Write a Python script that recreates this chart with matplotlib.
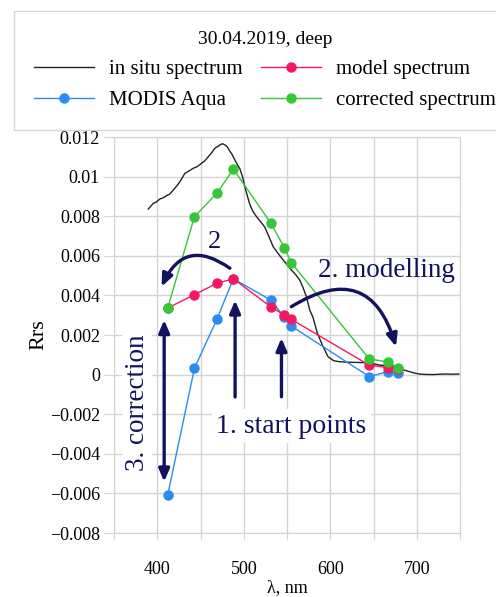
import numpy as np
import matplotlib.pyplot as plt
from matplotlib.ticker import FuncFormatter

# Rrs spectra, 30.04.2019 (deep station)
bands = [412, 443, 469, 488, 531, 547, 555, 645, 667, 678]
modis = [-0.0061, 0.00032, 0.0028, 0.00484, 0.00377, 0.0029, 0.00245, -0.0001, 0.00015, 0.0001]
model = [0.00336, 0.00404, 0.00461, 0.00484, 0.00343, 0.0030, 0.00279, 0.00048, 0.00035, 0.00028]
corrected = [0.00335, 0.00798, 0.00916, 0.01038, 0.00767, 0.00641, 0.00565, 0.00079, 0.00064, 0.00035]

insitu_wl = [389.6, 395.4, 399.0, 403.1, 407.0, 410.8, 414.5, 418.5, 422.0, 426.2, 432.0,
             436.5, 441.6, 446.0, 451.2, 455.0, 458.9, 462.5, 466.6, 470.0, 472.4, 475.5,
             478.2, 481.0, 483.1, 486.5, 489.7, 492.5, 495.5, 498.5, 501.2, 504.0, 507.0,
             510.5, 514.7, 519.5, 524.3, 529.0, 534.0, 540.0, 545.5, 550.0, 555.1, 560.0,
             564.7, 568.5, 572.4, 576.3, 580.0, 585.0, 591.7, 597.5, 604.0, 611.0, 618.0,
             626.0, 634.0, 642.0, 650.0, 657.0, 663.0, 668.6, 674.0, 680.0, 686.0, 691.7,
             697.0, 703.0, 710.0, 718.6, 726.0, 734.0, 741.0, 748.7]
insitu_rrs = [0.00836, 0.00865, 0.00872, 0.00887, 0.00893, 0.00904, 0.00912, 0.00932, 0.00950,
              0.00974, 0.01017, 0.01028, 0.01042, 0.01050, 0.01067, 0.01080, 0.01100, 0.01118,
              0.01143, 0.01152, 0.01160, 0.01166, 0.01160, 0.01150, 0.01134, 0.01112, 0.01084,
              0.01062, 0.01040, 0.01000, 0.00950, 0.00905, 0.00860, 0.00825, 0.00798, 0.00772,
              0.00745, 0.00698, 0.00646, 0.00610, 0.00579, 0.00555, 0.00528, 0.00505, 0.00478,
              0.00440, 0.00394, 0.00326, 0.00290, 0.00210, 0.00141, 0.00090, 0.00070, 0.00065,
              0.00063, 0.00062, 0.00061, 0.00060, 0.00055, 0.00048, 0.00046, 0.00043, 0.00038,
              0.00032, 0.00022, 0.00015, 0.00008, 0.00003, 0.00001, 0.0, 0.00002, 0.00003,
              0.00002, 0.00003]

navy = '#12125e'
grid_col = '#d4d4d4'

plt.rcParams['font.family'] = ['Liberation Serif', 'DejaVu Serif']

fig = plt.figure(figsize=(4.96, 5.97), dpi=100)
ax = fig.add_axes([114 / 496, 64 / 597, 346 / 496, 396 / 597])

l_insitu, = ax.plot(insitu_wl, insitu_rrs, color='#222222', lw=1.0, zorder=2,
                    label='in situ spectrum')
l_modis, = ax.plot(bands, modis, color='#2b8cf0', lw=1.0, marker='o', ms=6.5,
                   zorder=3, label='MODIS Aqua')
l_model, = ax.plot(bands, model, color='#f5185e', lw=1.0, marker='o', ms=6.5,
                   zorder=4, label='model spectrum')
l_corr, = ax.plot(bands, corrected, color='#36c736', lw=1.0, marker='o', ms=6.5,
                  zorder=5, label='corrected spectrum')

ax.set_xlim(350, 750)
ax.set_ylim(-0.008, 0.012)
ax.set_xticks(np.arange(350, 751, 50))
ax.set_xticklabels(['' if v % 100 else str(v) for v in range(350, 751, 50)])
ax.set_yticks(np.arange(-0.008, 0.0121, 0.002))


def rrs_fmt(v, pos):
    s = f'{v:.3f}'.rstrip('0').rstrip('.')
    if s in ('-0', ''):
        s = '0'
    return s.replace('-', '\u2212')


ax.yaxis.set_major_formatter(FuncFormatter(rrs_fmt))
ax.grid(True, color=grid_col, lw=1.0)
ax.set_axisbelow(True)
for sp in ax.spines.values():
    sp.set_color(grid_col)
ax.tick_params(axis='y', length=7, color=grid_col, labelsize=13, pad=3)
ax.tick_params(axis='x', length=4, color=grid_col, labelsize=13, pad=16)
ax.set_ylabel('Rrs', fontsize=16, labelpad=1)
ax.set_xlabel('λ, nm', fontsize=13, labelpad=1)

# annotations: steps of the correction procedure
arrow_kw = dict(arrowstyle='-|>,head_length=0.75,head_width=0.32', color=navy, lw=2.4,
                shrinkA=0, shrinkB=0)
ax.annotate('', xy=(490, 0.00375), xytext=(490, -0.00113), arrowprops=arrow_kw, zorder=6)
ax.annotate('', xy=(543.6, 0.00185), xytext=(543.6, -0.00112), arrowprops=arrow_kw, zorder=6)
ax.annotate('', xy=(408, -0.00541), xytext=(408, 0.00276),
            arrowprops=dict(arrow_kw, arrowstyle='<|-|>,head_length=0.75,head_width=0.32'),
            zorder=6)
ax.annotate('', xy=(405, 0.00444), xytext=(484, 0.00537),
            arrowprops=dict(arrow_kw, connectionstyle='arc3,rad=0.6'), zorder=6)
ax.annotate('', xy=(676, 0.00141), xytext=(555, 0.00343),
            arrowprops=dict(arrow_kw, connectionstyle='arc3,rad=-0.65'), zorder=6)

ax.text(466.6, 0.0067, '2', color=navy, fontsize=19, ha='center', va='center', zorder=7)
ax.text(665, 0.00528, '2. modelling', color=navy, fontsize=19.5, ha='center', va='center',
        zorder=7)
ax.text(555, -0.0026, '1. start points', color=navy, fontsize=20, ha='center', va='center',
        zorder=7, bbox=dict(facecolor='white', edgecolor='none', pad=3))
ax.text(376.6, -0.00143, '3. correction', color=navy, fontsize=19.5, ha='center',
        va='center', rotation=90, zorder=7,
        bbox=dict(facecolor='white', edgecolor='none', pad=2))

leg = fig.legend(handles=[l_insitu, l_modis, l_model, l_corr], ncol=2,
                 loc='upper left', bbox_to_anchor=(14 / 496, 1 - 11 / 597),
                 bbox_transform=fig.transFigure, borderaxespad=0,
                 title='30.04.2019, deep',
                 fontsize=15, title_fontsize=14, frameon=True, fancybox=False,
                 handlelength=2.9, handletextpad=0.72, columnspacing=0.85,
                 labelspacing=0.55, borderpad=0.95)
leg.get_frame().set_edgecolor('#cccccc')
leg.get_frame().set_linewidth(1.0)

fig.savefig('out.png', dpi=100)
